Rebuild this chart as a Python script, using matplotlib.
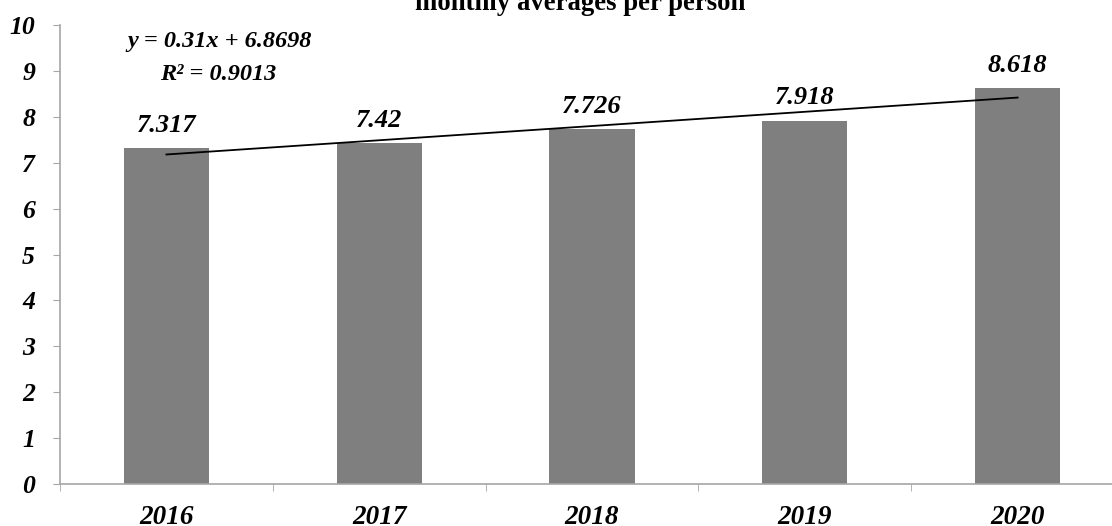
import matplotlib.pyplot as plt
import numpy as np

# serif bold italic like the original chart
plt.rcParams['font.family'] = 'Liberation Serif'

# data
years = ['2016', '2017', '2018', '2019', '2020']
values = [7.317, 7.42, 7.726, 7.918, 8.618]
value_labels = ['7.317', '7.42', '7.726', '7.918', '8.618']
y_ticks = [0, 1, 2, 3, 4, 5, 6, 7, 8, 9, 10]

fig = plt.figure(figsize=(11.12, 5.26), dpi=100)
ax = fig.add_axes([0.054, 0.0798, 0.9568, 0.8726])

pos = np.arange(len(years))
ax.bar(pos, values, width=0.40, color='#7f7f7f', zorder=2)

# linear trend line, x counted 1..5 like a spreadsheet trendline
xs = pos + 1
slope, intercept = np.polyfit(xs, values, 1)
fit = slope * xs + intercept
r2 = 1 - np.sum((np.array(values) - fit) ** 2) / np.sum((np.array(values) - np.mean(values)) ** 2)
ax.plot(pos, fit, color='black', linewidth=1.3, zorder=3)

# value labels above bars
for p, v, lab in zip(pos, values, value_labels):
    ax.annotate(lab, (p, v), xytext=(0, 12), textcoords='offset points',
                ha='center', va='baseline', fontsize=19,
                fontweight='bold', fontstyle='italic')

# trendline equation, two lines
ax.text(0.251, 9.52, 'y = %.2fx + %.4f' % (slope, intercept),
        ha='center', va='baseline', fontsize=17.5, fontweight='bold', fontstyle='italic')
ax.text(0.245, 8.80, 'R² = %.4f' % r2,
        ha='center', va='baseline', fontsize=17.5, fontweight='bold', fontstyle='italic')

ax.set_xlim(-0.5, 4.5)
ax.set_ylim(0, 10)
ax.set_yticks(y_ticks)
ax.set_yticklabels([str(t) for t in y_ticks])
ax.set_xticks(pos)
ax.set_xticklabels(years)
ax.set_xticks(np.arange(-0.5, 5, 1), minor=True)

ax.tick_params(axis='x', which='major', length=0, pad=15, labelsize=19.5)
ax.tick_params(axis='x', which='minor', length=5, color='#a6a6a6', direction='out')
ax.tick_params(axis='y', length=5, color='#a6a6a6', direction='out', pad=13, labelsize=18.5)
for lab in ax.get_xticklabels() + ax.get_yticklabels():
    lab.set_fontweight('bold')
    lab.set_fontstyle('italic')

for s in ['top', 'right']:
    ax.spines[s].set_visible(False)
for s in ['left', 'bottom']:
    ax.spines[s].set_color('#a6a6a6')
    ax.spines[s].set_linewidth(1.2)

# title sits half off the top edge in the original
fig.text(0.5216, 0.981, 'monthly averages per person', ha='center', va='baseline',
         fontsize=19.3, fontweight='bold')

fig.savefig('out.png', dpi=100)
